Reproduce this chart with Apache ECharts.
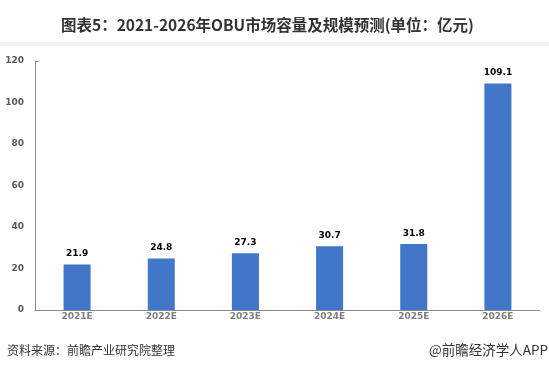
<!DOCTYPE html>
<html><head><meta charset="utf-8">
<style>html,body{margin:0;padding:0;background:#fff;}#c{width:549px;height:371px;}</style>
<script src="https://cdn.jsdelivr.net/npm/echarts@6/dist/echarts.min.js"></script>
</head><body><div id="c"></div>
<script>
const categories = ['2021E','2022E','2023E','2024E','2025E','2026E'];
const values = [21.9, 24.8, 27.3, 30.7, 31.8, 109.1];
const yTicks = [0, 20, 40, 60, 80, 100, 120];
const titleText = '图表5：2021-2026年OBU市场容量及规模预测(单位：亿元)';
const sourceText = '资料来源：前瞻产业研究院整理';
const brandText = '@前瞻经济学人APP';

const chart = echarts.init(document.getElementById('c'));
chart.setOption({
  backgroundColor: '#ffffff',
  animation: false,
  title: {
    text: titleText, left: 56, top: 12,
    textStyle: {fontSize: 15.5, fontWeight: 'bold', color: '#333333', fontFamily: 'Noto Sans CJK SC'}
  },
  graphic: [
    {type: 'rect', left: 0, top: 42, shape: {width: 549, height: 4}, style: {fill: '#eef1f8'}},
    {type: 'line', shape: {x1: 35, y1: 61.5, x2: 38, y2: 61.5}, style: {stroke: '#8c8c8c', lineWidth: 1}},
    {type: 'text', left: 7, top: 344, style: {text: sourceText, fill: '#333333', font: '12px "Noto Sans CJK SC"'}},
    {type: 'text', right: 1, top: 343, style: {text: brandText, fill: '#333333', font: '13.5px "Noto Sans CJK SC"'}}
  ],
  grid: {left: 35, right: 9, top: 61, bottom: 61},
  xAxis: {
    type: 'category', data: categories,
    axisLine: {lineStyle: {color: '#8c8c8c', width: 1}},
    axisTick: {show: false},
    axisLabel: {color: '#7f7f7f', fontSize: 9, fontWeight: 'bold', margin: 2, fontFamily: 'DejaVu Sans'}
  },
  yAxis: {
    type: 'value', min: yTicks[0], max: yTicks[yTicks.length-1], interval: 20,
    axisLine: {show: true, lineStyle: {color: '#8c8c8c', width: 1}},
    axisTick: {show: false},
    splitLine: {show: false},
    axisLabel: {color: '#595959', fontSize: 9, fontWeight: 'bold', margin: 11, fontFamily: 'DejaVu Sans'}
  },
  series: [{
    type: 'bar', data: values, barWidth: 27,
    itemStyle: {color: '#4176c8'},
    label: {show: true, position: 'top', distance: 6, color: '#000000', fontSize: 9, fontWeight: 'bold', fontFamily: 'DejaVu Sans', formatter: p => p.value.toFixed(1)}
  }]
});
</script></body></html>
